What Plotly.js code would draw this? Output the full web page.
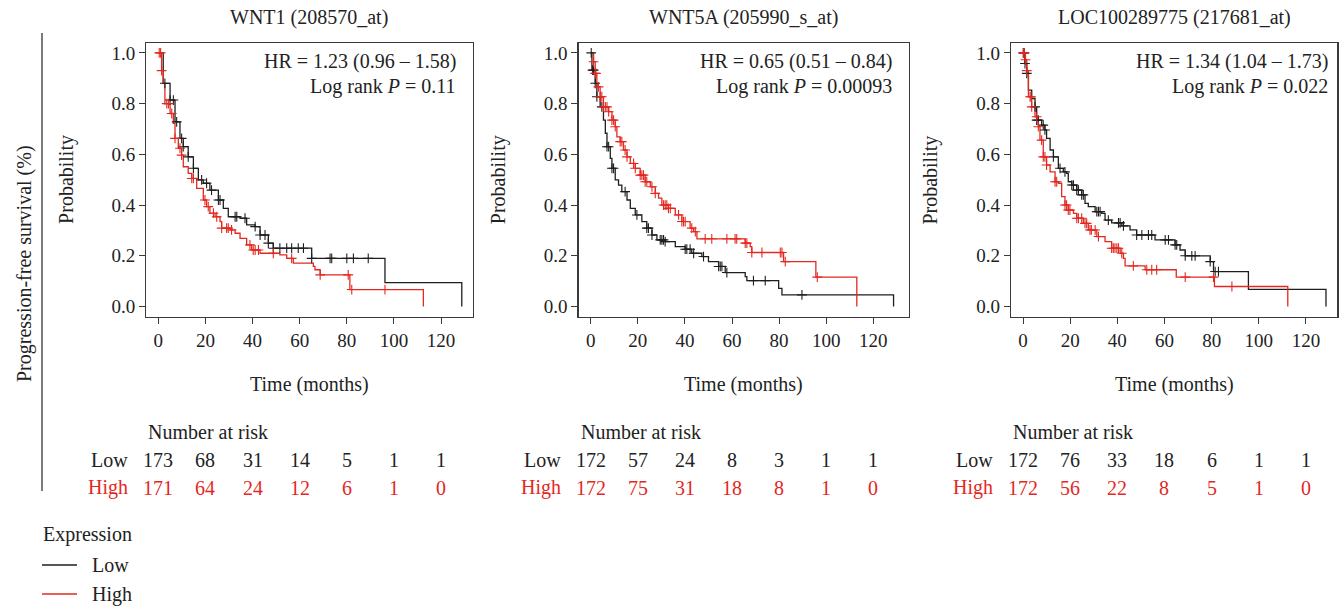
<!DOCTYPE html>
<html>
<head>
<meta charset="utf-8">
<script src="https://cdn.plot.ly/plotly-3.0.1.min.js"></script>
<style>html,body{margin:0;padding:0;background:#fff;}#chart{width:1343px;height:610px;}</style>
</head>
<body>
<div id="chart"></div>
<script>
// ---------------- DATA ----------------
const panelTitles = ["WNT1 (208570_at)", "WNT5A (205990_s_at)", "LOC100289775 (217681_at)"];
const hrTexts = ["HR = 1.23 (0.96 \u2013 1.58)", "HR = 0.65 (0.51 \u2013 0.84)", "HR = 1.34 (1.04 \u2013 1.73)"];
const pValues = ["0.11", "0.00093", "0.022"];
const xTickVals = [0, 20, 40, 60, 80, 100, 120];
const yTickVals = [0, 0.2, 0.4, 0.6, 0.8, 1.0];
const riskTimes = [0, 20, 40, 60, 80, 100, 120];

// Panel 1 : WNT1
const p1LowT = [0,2.1,5.0,7.1,9.2,10.6,12.7,14.9,17.0,19.1,21.9,25.5,27.6,29.7,34.7,37.5,41.1,43.2,46.7,48.8,65.1,96.2,128.8];
const p1LowS = [1,0.88,0.814,0.728,0.663,0.63,0.59,0.545,0.499,0.486,0.459,0.42,0.387,0.354,0.348,0.322,0.315,0.282,0.25,0.23,0.19,0.094,0];
const p1LowCens = [2.8,5.0,6.4,7.8,9.9,10.6,12.7,14.9,18.4,20.5,22.6,25.5,26.2,32.6,33.3,36.8,41.1,43.2,45.3,46.7,48.8,51.6,54.5,56.6,59.4,61.6,65.1,72.9,73.6,80.0,82.8,89.1];
const p1HighT = [0,1.4,2.1,2.8,5.0,6.4,7.1,8.5,9.9,10.6,12.7,14.2,16.3,19.1,20.5,21.9,24.1,26.2,26.9,30.4,32.6,34.7,37.5,39.6,43.2,51.6,54.5,57.3,65.8,66.5,68.7,81.3,112.5];
const p1HighS = [1,0.93,0.88,0.80,0.761,0.722,0.663,0.624,0.597,0.551,0.525,0.505,0.466,0.42,0.394,0.368,0.354,0.335,0.309,0.302,0.289,0.269,0.243,0.223,0.21,0.204,0.19,0.171,0.158,0.145,0.125,0.067,0];
const p1HighCens = [0.4,1.0,1.4,3.6,4.3,5.7,7.1,9.2,9.9,14.2,14.9,19.8,21.2,23.4,24.8,26.9,29.0,29.7,31.1,38.9,40.3,41.1,42.5,48.8,56.6,68.7,80.6,82.1,96.2];
const p1RiskLow = [173, 68, 31, 14, 5, 1, 1];
const p1RiskHigh = [171, 64, 24, 12, 6, 1, 0];

// Panel 2 : WNT5A
const p2LowT = [0,0.5,1.9,2.6,4.0,5.4,6.2,6.9,8.3,9.0,10.4,11.8,13.2,15.4,16.8,18.9,21.7,23.8,26.0,28.1,31.6,35.9,40.1,42.9,47.2,50.0,54.3,57.1,65.6,66.3,79.8,81.2,128.6];
const p2LowS = [1,0.932,0.88,0.827,0.787,0.735,0.683,0.63,0.584,0.545,0.499,0.479,0.453,0.42,0.387,0.361,0.335,0.309,0.282,0.263,0.256,0.236,0.226,0.21,0.197,0.177,0.158,0.134,0.118,0.102,0.072,0.046,0];
const p2LowCens = [0.2,0.8,1.2,1.9,2.6,4.7,6.9,7.6,9.0,9.7,14.6,19.6,23.8,24.5,26.0,29.5,30.2,30.9,31.6,40.1,40.8,42.2,43.7,47.9,54.3,55.0,55.7,57.8,69.1,74.1,89.7];
const p2HighT = [0,1.2,1.9,2.6,4.0,5.4,7.6,9.0,10.4,11.1,12.5,13.9,15.4,16.8,18.9,21.0,23.1,25.3,27.4,28.8,30.2,33.0,35.9,38.7,42.2,43.7,45.1,65.6,67.7,68.4,81.9,95.6,113.0];
const p2HighS = [1,0.965,0.919,0.866,0.827,0.787,0.768,0.735,0.709,0.669,0.65,0.617,0.59,0.564,0.545,0.518,0.492,0.472,0.446,0.427,0.4,0.387,0.361,0.335,0.309,0.295,0.267,0.25,0.236,0.213,0.177,0.116,0];
const p2HighCens = [1.2,1.9,2.2,3.3,4.0,4.7,5.4,6.2,6.9,7.6,9.0,9.7,10.4,12.5,13.2,14.6,15.4,18.2,18.9,21.0,21.7,22.4,23.1,23.8,26.0,27.4,30.9,31.6,32.3,33.0,33.8,37.3,38.7,39.4,40.1,42.9,44.4,48.6,51.4,57.8,61.3,62.0,65.6,66.3,68.4,72.7,80.5,81.2,82.6,96.2];
const p2RiskLow = [172, 57, 24, 8, 3, 1, 1];
const p2RiskHigh = [172, 75, 31, 18, 8, 1, 0];

// Panel 3 : LOC100289775
const p3LowT = [0,0.85,1.6,2.3,3.7,5.1,5.8,7.9,9.3,10.0,11.5,12.9,15.0,17.1,18.5,19.2,20.7,22.8,24.9,26.3,27.7,30.6,33.4,34.8,37.6,41.9,45.4,48.2,56.0,64.5,66.6,68.8,79.4,80.8,95.6,128.5];
const p3LowS = [1,0.958,0.919,0.853,0.82,0.787,0.735,0.715,0.696,0.663,0.617,0.59,0.545,0.531,0.525,0.492,0.479,0.459,0.44,0.407,0.394,0.374,0.367,0.341,0.33,0.318,0.302,0.282,0.263,0.243,0.223,0.2,0.177,0.138,0.068,0];
const p3LowCens = [0.14,0.57,0.85,1.6,5.1,5.8,6.5,8.6,9.3,12.9,15.7,17.8,20.7,21.4,22.8,23.5,24.9,25.6,31.3,32.0,32.7,36.2,40.5,41.2,42.6,48.2,50.4,53.2,54.6,60.3,61.7,64.5,65.2,68.8,71.6,73.0,79.4,81.5,82.9];
const p3HighT = [0,0.85,1.6,2.3,3.7,5.1,6.5,7.2,8.6,10.0,11.5,13.6,15.0,16.4,17.8,19.2,21.4,22.8,25.6,27.7,31.3,34.8,37.6,41.2,42.6,43.3,51.8,65.0,81.2,112.3];
const p3HighS = [1,0.973,0.93,0.827,0.787,0.748,0.709,0.656,0.59,0.558,0.531,0.492,0.486,0.433,0.4,0.38,0.367,0.348,0.328,0.302,0.276,0.256,0.23,0.21,0.19,0.16,0.145,0.116,0.079,0];
const p3HighCens = [0.14,0.57,1.1,1.6,3.0,3.4,3.7,5.8,6.5,7.9,8.6,9.3,10.0,13.6,14.3,17.8,18.5,19.2,19.9,22.8,23.5,24.9,26.3,27.0,28.4,29.0,30.6,32.0,37.6,38.3,39.0,39.8,40.5,41.9,46.8,52.5,54.6,56.7,68.8,80.8,88.6];
const p3RiskLow = [172, 76, 33, 18, 6, 1, 1];
const p3RiskHigh = [172, 56, 22, 8, 5, 1, 0];

// ---------------- LAYOUT CONSTANTS ----------------
const W = 1343, H = 610;
const FONT = '"Liberation Serif", "Times New Roman", serif';
const TXT = 20, TICK = 19;
const BLACK = '#1e1e1e', RED = '#e3281f', AXIS = '#3a3a3a';
const px = v => v / W;
const py = v => 1 - v / H;

const panels = [
  {lowT:p1LowT, lowS:p1LowS, lowC:p1LowCens, highT:p1HighT, highS:p1HighS, highC:p1HighCens, rl:p1RiskLow, rh:p1RiskHigh,
   range:[-5.13,133.43], dom:[146.2,472.7], hrRight:458},
  {lowT:p2LowT, lowS:p2LowS, lowC:p2LowCens, highT:p2HighT, highS:p2HighS, highC:p2HighCens, rl:p2RiskLow, rh:p2RiskHigh,
   range:[-5.2,135.2], dom:[578.5,909.1], hrRight:893.5},
  {lowT:p3LowT, lowS:p3LowS, lowC:p3LowCens, highT:p3HighT, highS:p3HighS, highC:p3HighCens, rl:p3RiskLow, rh:p3RiskHigh,
   range:[-5.13,133.3], dom:[1010.9,1337.3], hrRight:1330}
];

function stepAt(T, S, t) {
  let v = S[0];
  for (let i = 0; i < T.length; i++) { if (T[i] <= t) v = S[i]; else break; }
  return v;
}

const traces = [];
const annotations = [];
const shapes = [];
const layout = {
  width: W, height: H,
  margin: {l:0, r:0, t:0, b:0},
  paper_bgcolor: '#fff', plot_bgcolor: '#fff',
  showlegend: false,
  font: {family: FONT, size: TXT, color: '#222'}
};

const yTop = 42.7, yBot = 316.7;
function ann(o) {
  return Object.assign({xref: 'paper', yref: 'paper', showarrow: false, xanchor: 'center', yanchor: 'middle',
    font: {family: FONT, size: TXT, color: '#222'}}, o);
}

panels.forEach((p, i) => {
  const n = i + 1;
  const xa = 'x' + (n === 1 ? '' : n), ya = 'y' + (n === 1 ? '' : n);
  const xKey = 'xaxis' + (n === 1 ? '' : n), yKey = 'yaxis' + (n === 1 ? '' : n);
  layout[xKey] = {
    domain: [px(p.dom[0]), px(p.dom[1])], range: p.range, anchor: ya,
    tickvals: xTickVals, ticks: 'outside', ticklen: 6, tickwidth: 1, tickcolor: AXIS,
    showline: true, mirror: true, linecolor: AXIS, linewidth: 1.2,
    showgrid: false, zeroline: false, fixedrange: true,
    tickfont: {family: FONT, size: TICK, color: '#222'}
  };
  layout[yKey] = {
    domain: [py(yBot), py(yTop)], range: [-0.04, 1.04], anchor: xa,
    tickvals: yTickVals, tickformat: '.1f', ticks: 'outside', ticklen: 6, tickwidth: 1, tickcolor: AXIS,
    showline: true, mirror: true, linecolor: AXIS, linewidth: 1.2,
    showgrid: false, zeroline: false, fixedrange: true,
    tickfont: {family: FONT, size: TICK, color: '#222'}
  };
  // curves
  traces.push({x: p.lowT, y: p.lowS, xaxis: xa, yaxis: ya, mode: 'lines', line: {shape: 'hv', color: BLACK, width: 1.3}, name: 'Low', hoverinfo: 'skip'});
  traces.push({x: p.highT, y: p.highS, xaxis: xa, yaxis: ya, mode: 'lines', line: {shape: 'hv', color: RED, width: 1.3}, name: 'High', hoverinfo: 'skip'});
  // censor marks
  traces.push({x: p.lowC, y: p.lowC.map(t => stepAt(p.lowT, p.lowS, t)), xaxis: xa, yaxis: ya, mode: 'markers',
    marker: {symbol: 'cross-thin', size: 7, line: {width: 1.1, color: BLACK}, color: BLACK}, hoverinfo: 'skip'});
  traces.push({x: p.highC, y: p.highC.map(t => stepAt(p.highT, p.highS, t)), xaxis: xa, yaxis: ya, mode: 'markers',
    marker: {symbol: 'cross-thin', size: 7, line: {width: 1.1, color: RED}, color: RED}, hoverinfo: 'skip'});

  const cx = (p.dom[0] + p.dom[1]) / 2;
  annotations.push(ann({x: px(cx), y: py(18), text: panelTitles[i]}));
  annotations.push(ann({x: px(cx), y: py(384), text: 'Time (months)'}));
  annotations.push(ann({x: px(p.dom[0] - 80), y: py((yTop + yBot) / 2), text: 'Probability', textangle: -90}));
  annotations.push(ann({x: px(p.hrRight), y: py(61.7), text: hrTexts[i], xanchor: 'right'}));
  annotations.push(ann({x: px(p.hrRight), y: py(86.7), text: 'Log rank <i>P</i> = ' + pValues[i], xanchor: 'right'}));
  // risk table
  annotations.push(ann({x: px(p.dom[0]), y: py(432), text: 'Number at risk', xanchor: 'left'}));
  annotations.push(ann({x: px(p.dom[0] - 16), y: py(459.5), text: 'Low', xanchor: 'right'}));
  annotations.push(ann({x: px(p.dom[0] - 16), y: py(487.5), text: 'High', xanchor: 'right', font: {family: FONT, size: TXT, color: RED}}));
  riskTimes.forEach((t, k) => {
    annotations.push(ann({xref: xa, x: t, y: py(459.5), text: String(p.rl[k])}));
    annotations.push(ann({xref: xa, x: t, y: py(487.5), text: String(p.rh[k]), font: {family: FONT, size: TXT, color: RED}}));
  });
});

// shared y label and separator line
annotations.push(ann({x: px(25), y: py(264), text: 'Progression-free survival (%)', textangle: -90}));
shapes.push({type: 'line', xref: 'paper', yref: 'paper', x0: px(42), x1: px(42), y0: py(33), y1: py(491), line: {color: '#333', width: 1.3}});

// legend (Expression)
annotations.push(ann({x: px(41), y: py(534), text: 'Expression', xanchor: 'left'}));
[['Low', BLACK, 565], ['High', RED, 594]].forEach(([lab, col, yy]) => {
  shapes.push({type: 'line', xref: 'paper', yref: 'paper', x0: px(42), x1: px(77), y0: py(yy), y1: py(yy), line: {color: col, width: 1.3}});
  annotations.push(ann({x: px(90), y: py(yy), text: lab, xanchor: 'left'}));
});

layout.annotations = annotations;
layout.shapes = shapes;

Plotly.newPlot('chart', traces, layout, {displayModeBar: false, staticPlot: true});
</script>
</body>
</html>
